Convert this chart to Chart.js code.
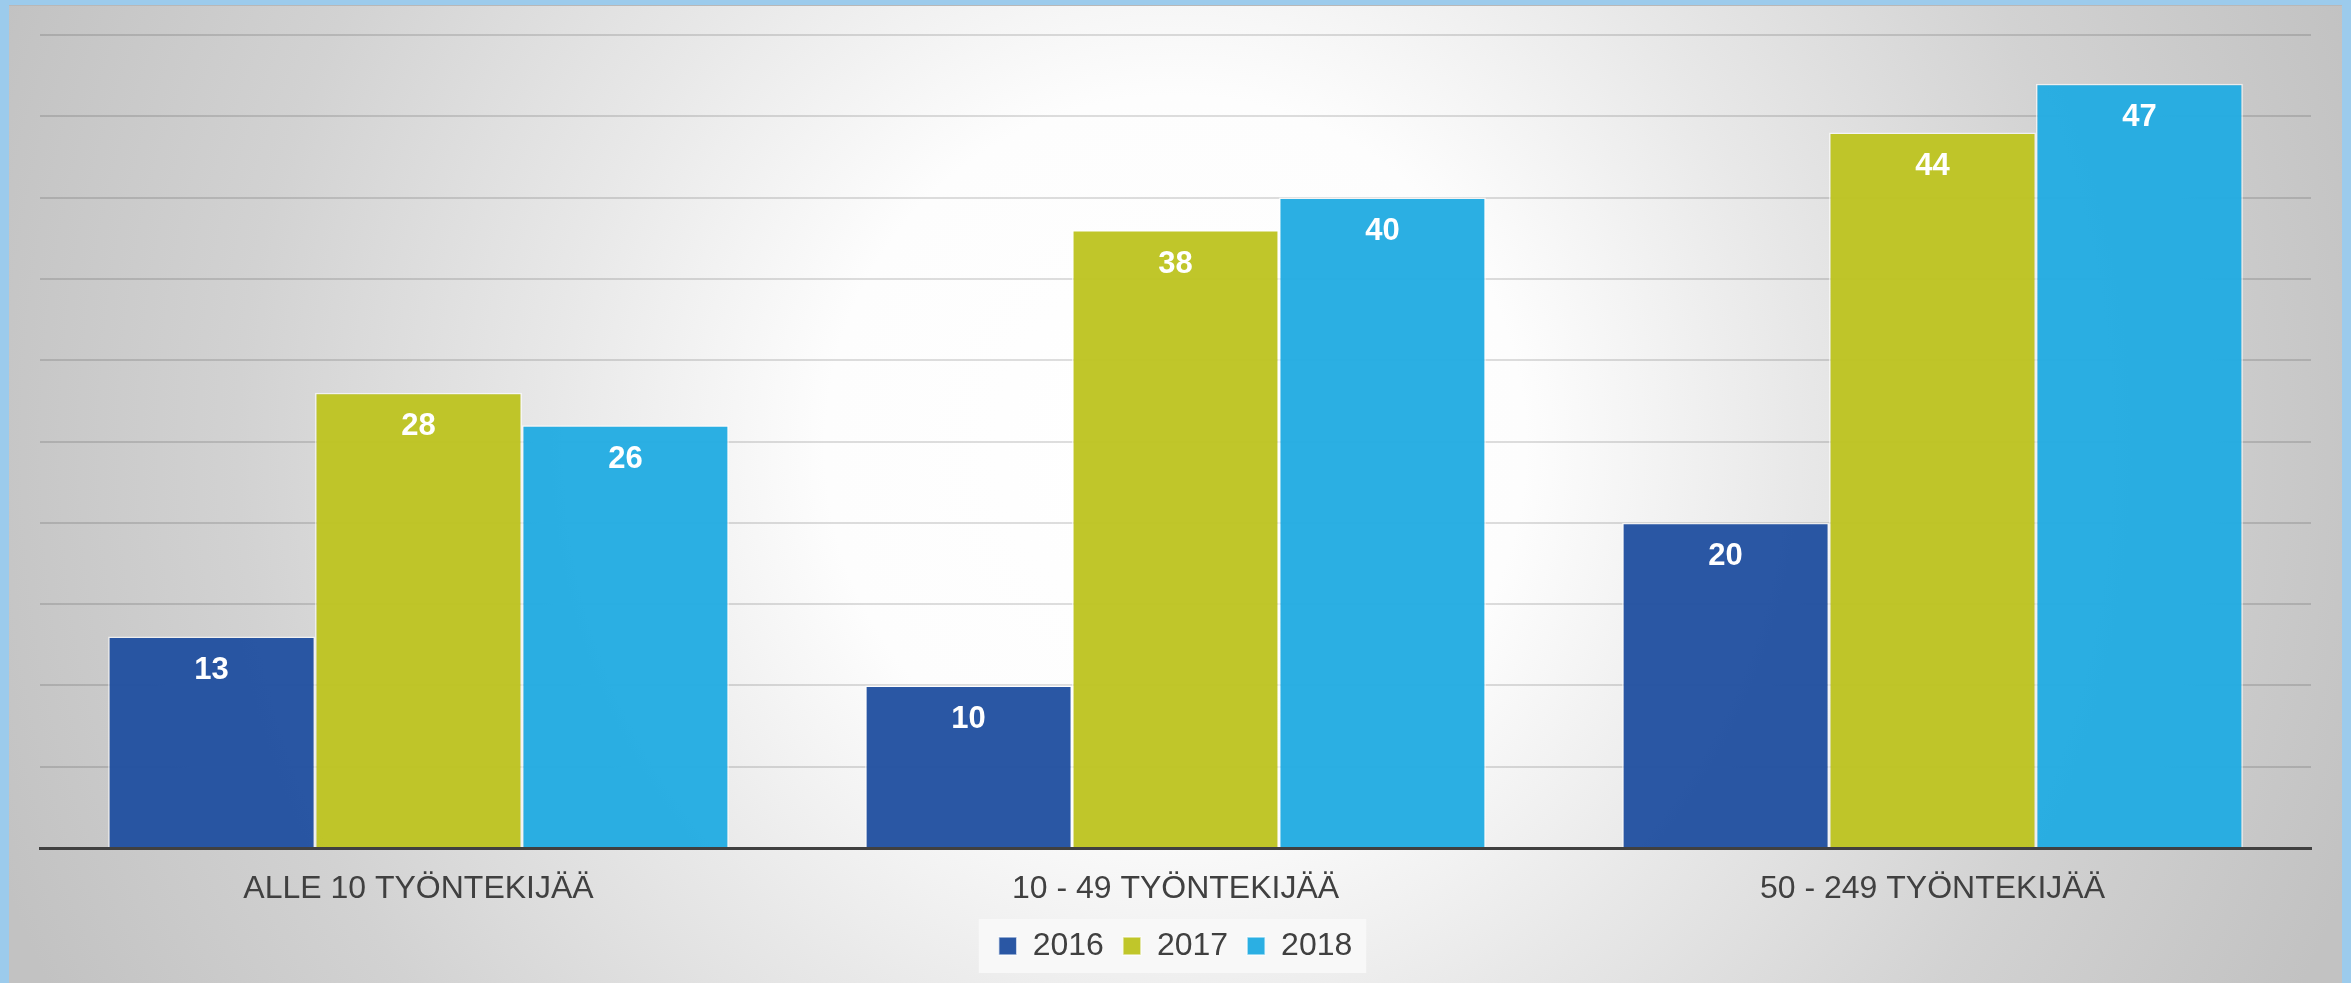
<!DOCTYPE html>
<html>
<head>
<meta charset="utf-8">
<script src="https://cdn.jsdelivr.net/npm/chart.js@4"></script>
<style>
    html, body { margin: 0; padding: 0; width: 2351px; height: 983px; overflow: hidden; background: #9ccbec; }
    #panel {
        position: absolute; left: 9px; top: 5px; width: 2333px; height: 978px;
        border-top: 1px solid #b8b8b8; box-sizing: border-box;
        background: radial-gradient(circle 1250px at 50% 45%, #ffffff 0%, #fdfdfd 28%, #e8e8e8 50%, #d2d2d2 75%, #c2c2c2 100%);
    }
    #chart { display: block; }
</style>
</head>
<body>
<div id="panel"><canvas id="chart"></canvas></div>
<script>
    // Tilastot henkilöstön koon mukaan
    let kategoriat = ["ALLE 10 TYÖNTEKIJÄÄ", "10 - 49 TYÖNTEKIJÄÄ", "50 - 249 TYÖNTEKIJÄÄ"];
    let vuodet = ["2016", "2017", "2018"];
    let arvot2016 = [13, 10, 20];
    let arvot2017 = [28, 38, 44];
    let arvot2018 = [26, 40, 47];

    let varit = ['rgba(33, 80, 160, 0.96)', 'rgba(189, 196, 33, 0.96)', 'rgba(34, 172, 226, 0.96)'];

    // valkoiset arvot pylväiden sisään
    let arvoPlugin = {
        id: 'arvot',
        afterDatasetsDraw(chart) {
            let ctx = chart.ctx;
            ctx.save();
            ctx.fillStyle = '#ffffff';
            ctx.font = 'bold 31px "Liberation Sans", Arial, sans-serif';
            ctx.textAlign = 'center';
            ctx.textBaseline = 'middle';
            chart.data.datasets.forEach((ds, i) => {
                chart.getDatasetMeta(i).data.forEach((bar, j) => {
                    ctx.fillText(ds.data[j], bar.x, bar.y + 34);
                });
            });
            ctx.restore();
        }
    };

    // vaalea tausta selitteen alle
    let selitePohja = {
        id: 'selitePohja',
        beforeDraw(chart) {
            let boxes = chart.legend && chart.legend.legendHitBoxes;
            if (!boxes || !boxes.length) return;
            let first = boxes[0], last = boxes[boxes.length - 1];
            let cy = first.top + first.height / 2;
            let ctx = chart.ctx;
            ctx.save();
            ctx.fillStyle = 'rgba(248, 248, 248, 0.9)';
            ctx.fillRect(first.left - 20, cy - 27, last.left + last.width + 14 - (first.left - 20), 54);
            ctx.restore();
        }
    };

    let canvas = document.getElementById('chart');

    new Chart(canvas.getContext('2d'), {
        type: 'bar',

        data: {
            labels: kategoriat,
            datasets: [
                { label: vuodet[0], data: arvot2016, backgroundColor: varit[0] },
                { label: vuodet[1], data: arvot2017, backgroundColor: varit[1] },
                { label: vuodet[2], data: arvot2018, backgroundColor: varit[2] }
            ]
        },

        options: {
            responsive: true,
            maintainAspectRatio: false,
            animation: false,
            devicePixelRatio: 1,
            datasets: {
                bar: {
                    categoryPercentage: 0.82,
                    barPercentage: 1.0,
                    borderColor: 'rgba(255, 255, 255, 0.65)',
                    borderWidth: 1.5
                }
            },
            layout: {
                padding: {top: 29, left: 31, right: 31, bottom: 11}
            },
            scales: {
                x: {
                    grid: {display: false, drawTicks: false},
                    border: {display: true, color: '#404040', width: 3},
                    ticks: {
                        color: '#404040',
                        padding: 22,
                        font: {size: 32, family: '"Liberation Sans", Arial, sans-serif'}
                    },
                    afterFit(scale) {
                        scale.height = 63;
                    }
                },
                y: {
                    min: 0,
                    max: 50,
                    ticks: {display: false, stepSize: 5},
                    grid: {color: 'rgba(0, 0, 0, 0.13)', lineWidth: 2, drawTicks: false},
                    border: {display: false}
                }
            },
            plugins: {
                legend: {
                    position: 'bottom',
                    labels: {
                        boxWidth: 18,
                        boxHeight: 18,
                        padding: 19,
                        color: '#404040',
                        font: {size: 32, family: '"Liberation Sans", Arial, sans-serif'}
                    }
                },
                tooltip: {enabled: false}
            },
            hover: {mode: null}
        },

        plugins: [arvoPlugin, selitePohja]
    });
</script>
</body>
</html>
